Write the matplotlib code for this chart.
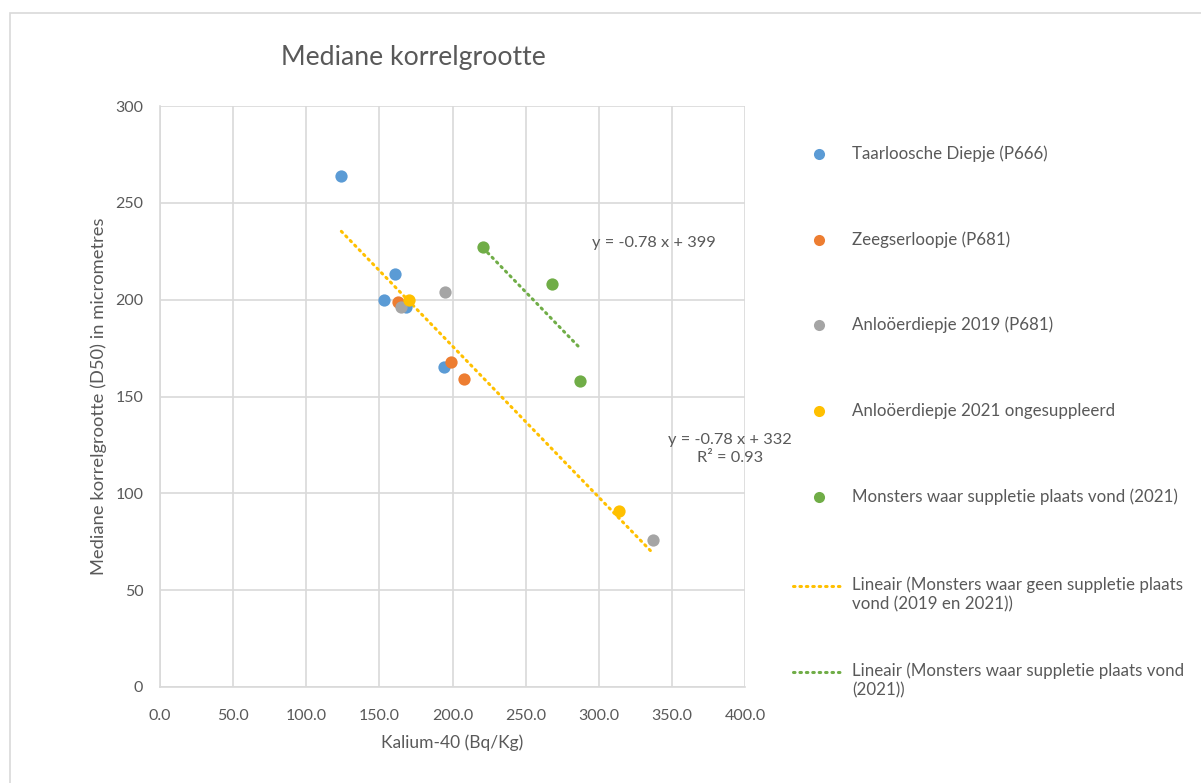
import matplotlib
matplotlib.use("Agg")
import matplotlib.pyplot as plt
from matplotlib.lines import Line2D
from matplotlib.patches import Rectangle
import numpy as np

plt.rcParams['font.family'] = ['Lato', 'DejaVu Sans']

# ---- data ----
taarloosche_x = [124, 161, 153, 168, 194]
taarloosche_y = [264, 213, 200, 196, 165]
zeegser_x = [163, 199, 208]
zeegser_y = [199, 168, 159]
anloo2019_x = [165, 195, 337]
anloo2019_y = [196, 204, 76]
anloo2021_x = [170, 314]
anloo2021_y = [200, 91]
suppletie_x = [221, 268, 287]
suppletie_y = [227, 208, 158]

# trendline coefficients as shown on the chart
geen_slope, geen_intercept = -0.78, 332
supp_slope, supp_intercept = -0.78, 399

series_labels = [
    "Taarloosche Diepje (P666)",
    "Zeegserloopje (P681)",
    "Anloöerdiepje 2019 (P681)",
    "Anloöerdiepje 2021 ongesuppleerd",
    "Monsters waar suppletie plaats vond (2021)",
]
trend_labels = [
    "Lineair (Monsters waar geen suppletie plaats\nvond (2019 en 2021))",
    "Lineair (Monsters waar suppletie plaats vond\n(2021))",
]
x_ticks = [0, 50, 100, 150, 200, 250, 300, 350, 400]
y_ticks = [0, 50, 100, 150, 200, 250, 300]

colors = ["#5B9BD5", "#ED7D31", "#A5A5A5", "#FFC000", "#70AD47"]
text_color = "#595959"
grid_color = "#D9D9D9"

W, H = 1201, 783
fig = plt.figure(figsize=(W / 100, H / 100), dpi=100)

# chart border
fig.patches.append(Rectangle((10 / W, -20 / H), (W + 20) / W, (H - 13 + 20) / H,
                             transform=fig.transFigure, fill=False,
                             edgecolor=grid_color, linewidth=1.2))

ax_l, ax_r, ax_t, ax_b = 160, 745, 106, 687
ax = fig.add_axes([ax_l / W, 1 - ax_b / H, (ax_r - ax_l) / W, (ax_b - ax_t) / H])
ax.set_xlim(0, 400)
ax.set_ylim(0, 300)
ax.set_xticks(x_ticks)
ax.set_yticks(y_ticks)
ax.set_xticklabels([f"{v:.1f}" for v in x_ticks])
ax.set_yticklabels([str(v) for v in y_ticks])
ax.grid(True, color=grid_color, linewidth=1.2)
ax.set_axisbelow(True)
for s in ["top", "right"]:
    ax.spines[s].set_visible(False)
for s in ["left", "bottom"]:
    ax.spines[s].set_color(grid_color)
    ax.spines[s].set_linewidth(1.2)
ax.tick_params(length=0, labelsize=11.5, labelcolor=text_color, pad=12)
ax.tick_params(axis='x', pad=16)

xs = [taarloosche_x, zeegser_x, anloo2019_x, anloo2021_x, suppletie_x]
ys = [taarloosche_y, zeegser_y, anloo2019_y, anloo2021_y, suppletie_y]
for x, y, c in zip(xs, ys, colors):
    ax.scatter(x, y, s=78, color=c, zorder=3, linewidths=0)

# trendlines
geen_x = taarloosche_x + zeegser_x + anloo2019_x + anloo2021_x
gx = np.array([min(geen_x), max(geen_x)])
sx = np.array([min(suppletie_x), max(suppletie_x)])
dot = dict(linestyle=(0, (0.5, 1.6)), linewidth=2.2, dash_capstyle='round', zorder=2)
ax.plot(gx, geen_slope * gx + geen_intercept, color=colors[3], **dot)
ax.plot(sx, supp_slope * sx + supp_intercept, color=colors[4], **dot)

ax.text(295.5, 229.2, f"y = {supp_slope} x + {supp_intercept}", fontsize=11.8,
        color=text_color, ha='left', va='center', clip_on=False)
ax.text(389.5, 123, f"y = {geen_slope} x + {geen_intercept}\nR² = 0.93", fontsize=11.8,
        color=text_color, ha='center', va='center', multialignment='center',
        linespacing=1.35, clip_on=False)

ax.set_xlabel("Kalium-40 (Bq/Kg)", fontsize=12.5, color=text_color, labelpad=8)
ax.set_ylabel("Mediane korrelgrootte (D50) in micrometres", fontsize=13.2,
              color=text_color, labelpad=6)

fig.text(413 / W, 1 - 58 / H, "Mediane korrelgrootte", fontsize=19.2,
         color=text_color, ha='center', va='center')

# legend (manual)
leg_fs = 12.2
leg_ys = [154, 240, 325, 411, 497]
for yy, c, lab in zip(leg_ys, colors, series_labels):
    fig.add_artist(Line2D([819 / W], [1 - yy / H], marker='o', markersize=8,
                          color=c, markeredgewidth=0, transform=fig.transFigure))
    fig.text(852 / W, 1 - yy / H, lab, fontsize=leg_fs, color=text_color,
             ha='left', va='center')
for yy, c, lab in zip([586, 672], [colors[3], colors[4]], trend_labels):
    fig.add_artist(Line2D([793 / W, 843 / W], [1 - yy / H, 1 - yy / H], color=c,
                          transform=fig.transFigure, **dot))
    fig.text(852 / W, 1 - (yy - 10) / H, lab, fontsize=leg_fs, color=text_color,
             ha='left', va='top', linespacing=1.25)

fig.savefig("out.png", dpi=100)
